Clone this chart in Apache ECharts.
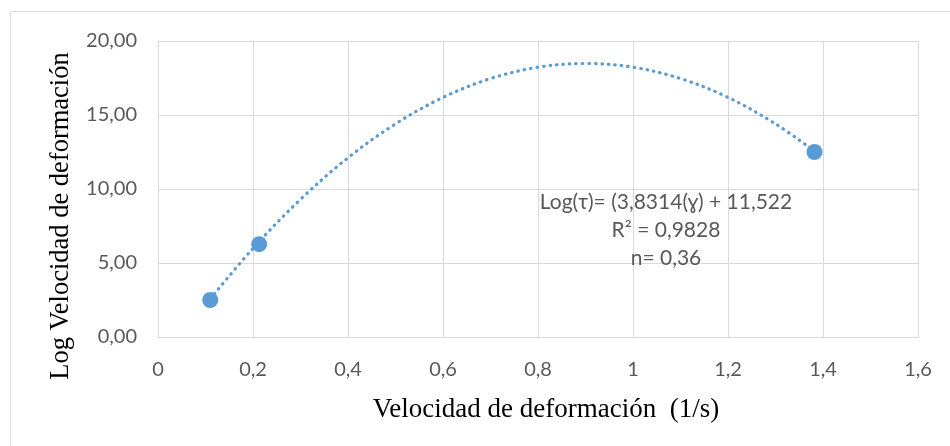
<!DOCTYPE html>
<html><head><meta charset="utf-8">
<script src="https://cdn.jsdelivr.net/npm/echarts@6/dist/echarts.min.js"></script>
<style>html,body{margin:0;padding:0;background:#fff}#c{width:950px;height:446px}</style>
</head><body><div id="c"></div>
<script>
// Measured data points
const xValues = [0.11, 0.213, 1.382];
const yValues = [2.5, 6.27, 12.5];
// Polynomial trendline
const trendX = [0.11, 0.2, 0.3, 0.4, 0.5, 0.6, 0.7, 0.8, 0.9, 1.0, 1.1, 1.2, 1.3, 1.382];
const trendY = [2.57, 5.99, 9.30, 12.11, 14.40, 16.19, 17.46, 18.23, 18.48, 18.23, 17.46, 16.19, 14.40, 12.56];
const xTicks = ['0', '0,2', '0,4', '0,6', '0,8', '1', '1,2', '1,4', '1,6'];
const yTicks = ['0,00', '5,00', '10,00', '15,00', '20,00'];
const annotationLines = ['Log(τ)= (3,8314(ɣ) + 11,522', 'R² = 0,9828', 'n= 0,36'];
const xTitle = 'Velocidad de deformación  (1/s)';
const yTitle = 'Log Velocidad de deformación';

const chart = echarts.init(document.getElementById('c'), null, {renderer: 'canvas'});
const tickFont = 'Lato, "Open Sans", sans-serif';
const titleFont = '"Liberation Serif", "Times New Roman", serif';
chart.setOption({
  animation: false,
  graphic: [{
    type: 'rect', shape: {x: 10.5, y: 11.5, width: 960, height: 460},
    style: {fill: 'none', stroke: '#d9d9d9', lineWidth: 1}, silent: true, z: -10
  }, {
    type: 'text', x: 666, y: 188, z: 10,
    style: {
      text: annotationLines.join('\n'), align: 'center', verticalAlign: 'top',
      font: '21px Lato, "Open Sans", sans-serif', fill: '#595959', lineHeight: 28
    }
  }, {
    type: 'text', x: 546, y: 410, z: 10,
    style: {text: xTitle, align: 'center', verticalAlign: 'middle',
      font: '27px ' + titleFont, fill: '#000'}
  }, {
    type: 'text', x: 61, y: 216, rotation: Math.PI / 2, z: 10,
    style: {text: yTitle, align: 'center', verticalAlign: 'middle',
      font: '26.5px ' + titleFont, fill: '#000'}
  }],
  grid: {left: 158, right: 32, top: 41, bottom: 109},
  xAxis: {
    type: 'value', min: 0, max: 1.6, interval: 0.2,
    axisLine: {show: true, lineStyle: {color: '#d9d9d9'}},
    axisTick: {show: false},
    splitLine: {show: true, lineStyle: {color: '#d9d9d9', width: 1}},
    axisLabel: {color: '#595959', fontSize: 20, fontFamily: tickFont, margin: 23,
      formatter: (v) => xTicks[Math.round(v / 0.2)]}
  },
  yAxis: {
    type: 'value', min: 0, max: 20, interval: 5,
    axisLine: {show: true, lineStyle: {color: '#d9d9d9'}},
    axisTick: {show: false},
    splitLine: {show: true, lineStyle: {color: '#d9d9d9', width: 1}},
    axisLabel: {color: '#595959', fontSize: 20, fontFamily: tickFont, margin: 21,
      formatter: (v) => yTicks[Math.round(v / 5)]}
  },
  series: [{
    type: 'line', data: trendX.map((x, i) => [x, trendY[i]]), showSymbol: false, smooth: 0.35,
    lineStyle: {color: '#5b9bd5', width: 3.2, type: [0.5, 6], cap: 'round'}, z: 2
  }, {
    type: 'scatter', data: xValues.map((x, i) => [x, yValues[i]]),
    symbolSize: 16, itemStyle: {color: '#5b9bd5', opacity: 1}, z: 3
  }]
});
</script></body></html>
